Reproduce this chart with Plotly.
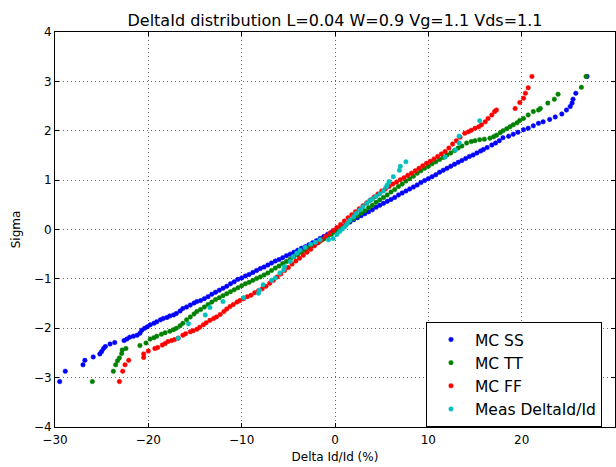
import plotly.graph_objects as go

# ---------------- data ----------------
ss_x = [-29.5, -28.9, -27.0, -26.8, -25.9, -25.2, -25.0, -24.8, -24.6, -24.1, -23.6, -22.6, -22.3, -22.0,
        -21.6, -21.2, -20.9, -20.7, -20.4, -20.1, -19.8, -19.4, -19.1, -18.7, -18.4, -18.0, -17.7, -17.3,
        -17.0, -16.6, -16.3, -15.9, -15.5, -15.1, -14.8,
        -14.4, -14.0, -13.6, -13.2, -12.8, -12.4, -12.0, -11.6, -11.2, -10.8, -10.4, -10.0, -9.6, -9.2,
        -8.8, -8.4, -8.0, -7.6, -7.2, -6.8, -6.4, -6.0, -5.6, -5.2, -4.8, -4.4, -4.0, -3.6, -3.2, -2.8,
        -2.4, -2.0, -1.6, -1.2, -0.8, -0.4, 0.0, 0.4, 0.8, 1.2, 1.6, 2.0, 2.4, 2.8, 3.2, 3.6, 4.0, 4.4,
        4.8, 5.2, 5.6, 6.0, 6.4, 6.8, 7.2, 7.6, 8.0, 8.4, 8.8, 9.2, 9.6, 10.0, 10.4, 10.8, 11.2, 11.6,
        12.0, 12.4, 12.8, 13.2, 13.6, 14.0, 14.4, 14.8, 15.2, 15.6,
        15.9, 16.3, 16.8, 17.2, 17.6, 18.0, 18.6, 19.1, 19.6, 20.2, 20.7, 21.25, 21.8, 22.3, 23.0, 23.6,
        24.3, 24.8, 25.2, 25.4, 25.5, 25.8, 27.0]
ss_y = [-3.08, -2.87, -2.74, -2.65, -2.58, -2.52, -2.47, -2.41, -2.37, -2.32, -2.29, -2.25, -2.22, -2.18,
        -2.16, -2.14, -2.10, -2.04, -2.00, -1.97, -1.93, -1.90, -1.87, -1.83, -1.80, -1.78, -1.75, -1.73,
        -1.70, -1.65, -1.60, -1.57, -1.53, -1.49, -1.46,
        -1.44, -1.40, -1.36, -1.31, -1.27, -1.23, -1.19, -1.15, -1.10, -1.06, -1.01, -0.98, -0.94, -0.91,
        -0.87, -0.83, -0.79, -0.76, -0.72, -0.68, -0.64, -0.61, -0.57, -0.53, -0.50, -0.46, -0.42, -0.38,
        -0.35, -0.31, -0.27, -0.23, -0.18, -0.14, -0.10, -0.06, -0.02, 0.02, 0.07, 0.11, 0.15, 0.20, 0.24,
        0.28, 0.32, 0.36, 0.40, 0.45, 0.49, 0.53, 0.57, 0.61, 0.65, 0.70, 0.74, 0.78, 0.82, 0.86, 0.90,
        0.95, 0.99, 1.03, 1.07, 1.11, 1.16, 1.20, 1.24, 1.28, 1.32, 1.36, 1.40, 1.44, 1.48, 1.51, 1.55,
        1.59,
        1.62, 1.66, 1.71, 1.75, 1.80, 1.86, 1.89, 1.93, 1.97, 2.02, 2.05, 2.10, 2.15, 2.18, 2.23, 2.28,
        2.34, 2.42, 2.49, 2.56, 2.64, 2.76, 3.10]

tt_x = [-26.0, -23.75, -23.5, -23.3, -23.1, -22.85, -22.8, -22.4, -20.9, -20.25, -19.8, -19.4, -19.1,
        -18.6, -18.2, -17.7, -17.3, -17.0, -16.6, -16.3, -15.9, -15.5, -15.1, -14.8, -14.4,
        -14.0, -13.6, -13.2, -12.8, -12.4, -12.0, -11.6, -11.2, -10.8, -10.4, -10.0, -9.6, -9.2, -8.8,
        -8.4, -8.0, -7.6, -7.2, -6.8, -6.4, -6.0, -5.6, -5.2, -4.8, -4.4, -4.0, -3.6, -3.2, -2.8, -2.4,
        -2.0, -1.6, -1.2, -0.8, -0.4, 0.0, 0.4, 0.8, 1.2, 1.6, 2.0, 2.4, 2.8, 3.2, 3.6, 4.0, 4.4, 4.8,
        5.2, 5.6, 6.0, 6.4, 6.8, 7.2, 7.6, 8.0, 8.4, 8.8, 9.2, 9.6, 10.0, 10.4, 10.8, 11.2, 11.6, 12.0,
        12.4, 12.8, 13.2, 13.6, 14.1,
        14.6, 15.0, 15.5, 16.0, 16.6, 17.0, 17.3, 17.7, 18.0, 18.4, 18.75, 19.1, 19.5, 19.8, 20.2, 20.7,
        21.25, 21.8, 22.0, 22.8, 23.5, 23.9, 26.4, 26.9]
tt_y = [-3.08, -2.87, -2.74, -2.66, -2.60, -2.51, -2.44, -2.41, -2.35, -2.30, -2.22, -2.19, -2.16,
        -2.12, -2.09, -2.06, -2.03, -2.00, -1.95, -1.90, -1.83, -1.77, -1.71, -1.66, -1.62,
        -1.57, -1.52, -1.47, -1.42, -1.38, -1.34, -1.30, -1.26, -1.22, -1.18, -1.14, -1.10, -1.07, -1.03,
        -0.99, -0.96, -0.92, -0.88, -0.83, -0.78, -0.74, -0.69, -0.65, -0.60, -0.55, -0.51, -0.46, -0.42,
        -0.37, -0.33, -0.28, -0.24, -0.19, -0.15, -0.10, -0.05, 0.00, 0.05, 0.11, 0.17, 0.22, 0.28, 0.33,
        0.38, 0.44, 0.49, 0.55, 0.60, 0.65, 0.70, 0.76, 0.81, 0.87, 0.92, 0.98, 1.03, 1.08, 1.14, 1.19,
        1.24, 1.28, 1.33, 1.37, 1.42, 1.46, 1.51, 1.55, 1.60, 1.65, 1.69, 1.75,
        1.78, 1.80, 1.82, 1.83, 1.85, 1.88, 1.91, 1.96, 2.00, 2.04, 2.08, 2.12, 2.16, 2.21, 2.25, 2.32,
        2.39, 2.42, 2.45, 2.56, 2.64, 2.74, 2.88, 3.10]

ff_x = [-23.1, -22.75, -22.5, -22.1, -20.5, -20.5, -20.0, -19.3, -19.0, -18.5, -18.2, -17.9, -17.5,
        -17.2, -16.8, -16.3, -16.0, -15.5, -15.2, -14.8, -14.5, -14.1, -13.8, -13.4, -13.0, -12.7, -12.3,
        -11.9, -11.6, -11.25, -10.9, -10.5,
        -10.2, -9.8, -9.4, -9.0, -8.6, -8.2, -7.8, -7.4, -7.0, -6.6, -6.2, -5.8, -5.4, -5.0, -4.6, -4.2,
        -3.8, -3.4, -3.0, -2.6, -2.2, -1.8, -1.4, -1.0, -0.6, -0.2, 0.2, 0.6, 1.0, 1.4, 1.8, 2.2, 2.6,
        3.0, 3.4, 3.8, 4.2, 4.6, 5.0, 5.4, 5.8, 6.2, 6.6, 7.0, 7.4, 7.8, 8.2, 8.6, 9.0, 9.4, 9.8, 10.2,
        10.6, 11.0, 11.4, 11.8, 12.2, 12.6, 13.0, 13.4,
        13.9, 14.3, 14.6, 15.0, 15.4, 15.7, 16.1, 16.4, 16.8, 17.1, 17.3, 19.3, 19.8, 20.2, 20.4, 20.7,
        21.1]
ff_y = [-3.08, -2.87, -2.74, -2.65, -2.59, -2.52, -2.46, -2.41, -2.39, -2.34, -2.31, -2.27, -2.25,
        -2.23, -2.20, -2.14, -2.11, -2.07, -2.05, -2.02, -1.98, -1.93, -1.89, -1.84, -1.80, -1.77, -1.72,
        -1.66, -1.61, -1.56, -1.52, -1.47,
        -1.44, -1.40, -1.36, -1.33, -1.28, -1.24, -1.20, -1.15, -1.09, -1.03, -0.96, -0.90, -0.83, -0.77,
        -0.70, -0.64, -0.58, -0.52, -0.46, -0.40, -0.33, -0.27, -0.21, -0.14, -0.08, -0.02, 0.04, 0.10,
        0.17, 0.24, 0.30, 0.36, 0.42, 0.48, 0.54, 0.60, 0.66, 0.72, 0.78, 0.82, 0.87, 0.92, 0.96, 1.01,
        1.05, 1.10, 1.14, 1.19, 1.24, 1.29, 1.34, 1.38, 1.43, 1.48, 1.53, 1.58, 1.65, 1.73, 1.80, 1.87,
        1.95, 1.98, 2.01, 2.05, 2.08, 2.12, 2.18, 2.25, 2.32, 2.39, 2.42, 2.45, 2.57, 2.66, 2.76, 2.87,
        3.10]

meas_x = [-16.8, -15.7, -13.9, -13.4, -12.0, -9.8, -8.2, -8.1, -7.7, -6.8, -6.4, -5.9, -5.5, -5.4, -4.8,
          -4.5, -4.1, -3.75, -3.2, -2.6, -2.1, -1.6, -0.7, -0.2, 0.2, 0.5, 0.8, 1.07, 1.3, 1.6, 2.0,
          2.3, 2.7, 3.0, 3.4, 3.7, 4.0, 4.4, 4.8, 5.2, 5.5, 5.6, 5.8, 6.25, 6.9, 7.0, 7.6, 11.8, 12.9,
          13.3, 13.3, 15.5]
meas_y = [-2.20, -1.91, -1.73, -1.58, -1.46, -1.38, -1.29, -1.23, -1.12, -1.03, -0.98, -0.88, -0.82,
          -0.75, -0.65, -0.55, -0.48, -0.42, -0.36, -0.30, -0.26, -0.21, -0.21, -0.18, -0.10, -0.04, 0.01,
          0.06, 0.12, 0.19, 0.26, 0.33, 0.40, 0.46, 0.53, 0.58, 0.62, 0.67, 0.72, 0.78, 0.86, 0.90, 0.97,
          1.07, 1.20, 1.28, 1.37, 1.47, 1.61, 1.75, 1.89, 2.20]

series_names = ["MC SS", "MC TT", "MC FF", "Meas DeltaId/Id"]
series_colors = ["#0000ff", "#008000", "#ff0000", "#00bfbf"]
x_ticks = [-30, -20, -10, 0, 10, 20, 30]
y_ticks = [-4, -3, -2, -1, 0, 1, 2, 3, 4]

FONT = "DejaVu Sans"

fig = go.Figure()
for name, xs, ys, col in zip(series_names, [ss_x, tt_x, ff_x, meas_x], [ss_y, tt_y, ff_y, meas_y],
                             series_colors):
    fig.add_trace(go.Scatter(
        x=xs, y=ys, mode="markers", name=name, legendgroup=name,
        marker=dict(size=4.5, color=col, line=dict(width=0.5, color=col)),
    ))

axis_common = dict(
    showline=True, linecolor="black", linewidth=1, mirror="ticks",
    ticks="inside", ticklen=4, tickwidth=1, tickcolor="black",
    showgrid=True, gridcolor="#666666", gridwidth=1, griddash="1px,3px",
    zeroline=False, automargin=False,
    tickfont=dict(family=FONT, size=12, color="black"),
)

fig.update_xaxes(range=[-30, 30], tickvals=x_ticks, **axis_common, ticklabelstandoff=2,
                 title=dict(text="Delta Id/Id (%)", font=dict(family=FONT, size=12, color="black"),
                            standoff=6))
fig.update_yaxes(range=[-4, 4], tickvals=y_ticks, **axis_common,
                 title=dict(text="Sigma", font=dict(family=FONT, size=12, color="black"),
                            standoff=10))

fig.update_layout(
    width=616, height=467,
    margin=dict(l=55, r=1, t=32, b=40, autoexpand=False),
    paper_bgcolor="white", plot_bgcolor="white",
    font=dict(family=FONT, color="black"),
    title=dict(text="DeltaId distribution L=0.04 W=0.9 Vg=1.1 Vds=1.1",
               font=dict(family=FONT, size=16, color="black"),
               x=0.5, xref="paper", xanchor="center", y=1 - 20 / 467, yanchor="middle"),
    legend=dict(x=0.6625, y=0.266, xanchor="left", yanchor="top",
                bgcolor="white", bordercolor="black", borderwidth=1,
                font=dict(family=FONT, size=15.5, color="black"),
                tracegroupgap=0, itemwidth=38, traceorder="grouped"),
    showlegend=True,
)

fig.write_html("out.html", config={"displayModeBar": False},
               post_script="document.body.style.margin='0px';")
